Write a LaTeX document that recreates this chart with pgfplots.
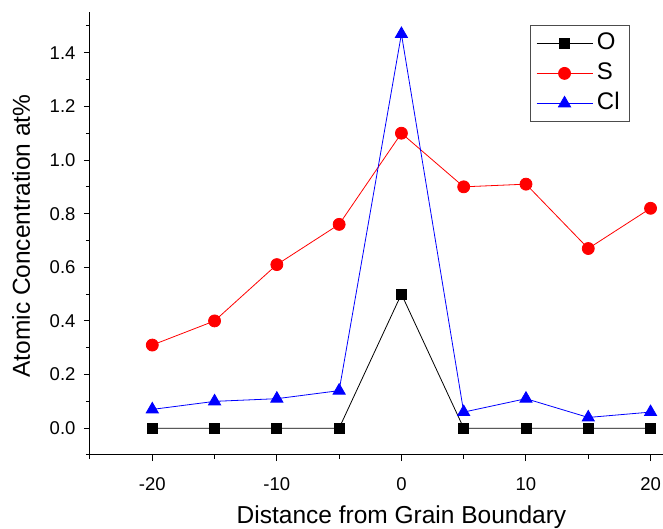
\documentclass[border=0pt]{standalone}
\usepackage{fontspec}
\setmainfont{Liberation Sans}
\usepackage{pgfplots}
\pgfplotsset{compat=1.18}
\begin{document}
\begin{tikzpicture}[x=1pt,y=1pt]
\begin{axis}[
  at={(0,0)}, anchor=south west,
  scale only axis, width=573pt, height=443pt,
  xmin=-25, xmax=21, ymin=-0.1, ymax=1.552,
  axis x line=bottom, axis y line=left,
  axis line style={-, line width=1pt},
  tick align=outside,
  major tick length=6pt, minor tick length=4pt,
  every tick/.style={black, line width=1pt},
  xtick={-20,-10,0,10,20}, minor xtick={-25,-15,-5,5,15},
  ytick={0,0.2,...,1.4}, minor ytick={-0.1,0.1,0.3,...,1.5},
  /pgf/number format/assume math mode=true,
  yticklabel style={/pgf/number format/fixed, /pgf/number format/fixed zerofill, /pgf/number format/precision=1, xshift=-5pt},
  ticklabel style={font=\fontsize{18.5}{18.5}\selectfont},
  xticklabel style={yshift=-13pt},
  xlabel={Distance from Grain Boundary},
  ylabel={Atomic Concentration at\%},
  label style={font=\fontsize{24.5}{24.5}\selectfont},
  xlabel style={at={(axis description cs:0.5436,0)}, anchor=center, yshift=-62pt},
  every axis y label/.append style={at={(-69pt,219pt)}, anchor=center},
  legend style={at={(540pt,430pt)}, anchor=north east, draw=black!70, line width=0.8pt,
    font=\fontsize{24}{24}\selectfont, row sep=4pt, inner xsep=6pt, inner ysep=5pt,
    nodes={text height=17pt, text depth=5pt, inner xsep=4pt}},
  legend cell align=left,
  legend image code/.code={
    \draw[#1, mark repeat=2, mark phase=2] plot coordinates {(0pt,0pt) (28pt,0pt) (56pt,0pt)};},
  clip=false,
]
\addplot[black, line width=0.8pt, mark=square*, mark size=5pt] coordinates {
(-20,0) (-15,0) (-10,0) (-5,0) (0,0.5) (5,0) (10,0) (15,0) (20,0)};
\addlegendentry{O}
\addplot[red, line width=0.8pt, mark=*, mark size=6pt] coordinates {
(-20,0.31) (-15,0.40) (-10,0.61) (-5,0.76) (0,1.10) (5,0.90) (10,0.91) (15,0.67) (20,0.82)};
\addlegendentry{S}
\addplot[blue, line width=0.8pt, mark=triangle*, mark size=7pt] coordinates {
(-20,0.07) (-15,0.10) (-10,0.11) (-5,0.14) (0,1.47) (5,0.06) (10,0.11) (15,0.04) (20,0.06)};
\addlegendentry{Cl}
\end{axis}
\pgfresetboundingbox
\path[use as bounding box] (-90pt,-74pt) rectangle (573pt,455pt);
\end{tikzpicture}
\end{document}
